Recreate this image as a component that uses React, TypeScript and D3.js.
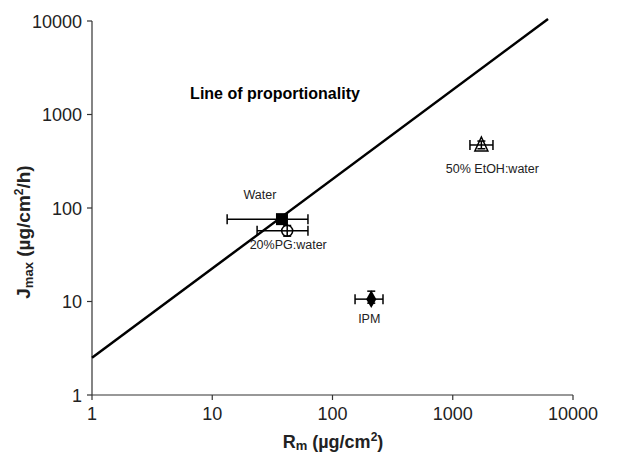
import * as d3 from 'd3'

// formulations: R_m (x), J_max (y) with error ranges
const names = ['Water', '20%PG:water', 'IPM', '50% EtOH:water']
const rm = [38, 42, 210, 1730]
const rmLo = [13.3, 23.6, 154, 1390]
const rmHi = [62.5, 62.5, 263, 2160]
const jmax = [76, 57, 10.6, 472]
const jLo = [70, 50, 9.6, 430]
const jHi = [83, 65, 12.9, 520]
const markers = ['square', 'circle', 'diamond', 'triangle']
// label offsets relative to marker (px)
const labelDx = [-22, 1, -2, 11]
const labelDy = [-20, 18, 24, 28]

// line of proportionality end points
const lineR = [1, 6200]
const lineJ = [2.5, 10500]

const ticks = [1, 10, 100, 1000, 10000]

export default function App() {
  const width = 622
  const height = 455
  const x = d3.scaleLog().domain([1, 10000]).range([92, 573])
  const y = d3.scaleLog().domain([1, 10000]).range([395, 21])
  const axisColor = '#333'
  const font = 'Liberation Sans, Arial, sans-serif'

  const line = d3.line<number>()
    .x((d, i) => x(lineR[i]))
    .y((d, i) => y(lineJ[i]))

  const marker = (kind: string, cx: number, cy: number) => {
    if (kind === 'square') {
      return <rect x={cx - 6} y={cy - 6} width={12} height={12} fill="#000" />
    }
    if (kind === 'circle') {
      return <circle cx={cx} cy={cy} r={5.5} fill="#fff" stroke="#000" strokeWidth={1.5} />
    }
    if (kind === 'diamond') {
      const s = d3.symbol().type(d3.symbolDiamond).size(90)()
      return <path d={s ?? ''} transform={`translate(${cx},${cy})`} fill="#000" />
    }
    const t = `M${cx},${cy - 8}L${cx + 6.5},${cy + 6}L${cx - 6.5},${cy + 6}Z`
    return <path d={t} fill="#fff" stroke="#000" strokeWidth={1.5} />
  }

  return (
    <svg width={width} height={height} style={{ position: 'absolute', left: 0, top: 0 }} fontFamily={font}>
      <rect width={width} height={height} fill="#fff" />

      {/* axes */}
      <line x1={92} x2={573} y1={395} y2={395} stroke={axisColor} strokeWidth={1.2} />
      <line x1={92} x2={92} y1={21} y2={395} stroke={axisColor} strokeWidth={1.2} />
      {ticks.map(t => (
        <g key={'x' + t}>
          <line x1={x(t)} x2={x(t)} y1={395} y2={400} stroke={axisColor} strokeWidth={1.2} />
          <text x={x(t)} y={420} textAnchor="middle" fontSize={18} fill="#222">{t}</text>
        </g>
      ))}
      {ticks.map(t => (
        <g key={'y' + t}>
          <line x1={87} x2={92} y1={y(t)} y2={y(t)} stroke={axisColor} strokeWidth={1.2} />
          <text x={82} y={y(t) + 6.5} textAnchor="end" fontSize={18} fill="#222">{t}</text>
        </g>
      ))}

      <text x={333} y={448} textAnchor="middle" fontSize={18} fontWeight="bold" fill="#222">
        R<tspan fontSize={13} dy={2}>m</tspan><tspan dy={-2}> (µg/cm</tspan><tspan fontSize={12} dy={-7}>2</tspan><tspan dy={7}>)</tspan>
      </text>
      <text transform="translate(30,232) rotate(-90)" textAnchor="middle" fontSize={19} fontWeight="bold" fill="#222">
        J<tspan fontSize={13} dy={3}>max</tspan><tspan dy={-3}> (µg/cm</tspan><tspan fontSize={12} dy={-7}>2</tspan><tspan dy={7}>/h)</tspan>
      </text>

      {/* line of proportionality */}
      <path d={line(lineR) ?? ''} fill="none" stroke="#000" strokeWidth={2.5} />
      <text x={275} y={99} textAnchor="middle" fontSize={16} fontWeight="bold" fill="#000">Line of proportionality</text>

      {/* points with error bars */}
      {names.map((n, i) => {
        const cx = x(rm[i])
        const cy = y(jmax[i])
        return (
          <g key={n}>
            <line x1={x(rmLo[i])} x2={x(rmHi[i])} y1={cy} y2={cy} stroke="#000" strokeWidth={1.5} />
            <line x1={x(rmLo[i])} x2={x(rmLo[i])} y1={cy - 5} y2={cy + 5} stroke="#000" strokeWidth={1.5} />
            <line x1={x(rmHi[i])} x2={x(rmHi[i])} y1={cy - 5} y2={cy + 5} stroke="#000" strokeWidth={1.5} />
            {marker(markers[i], cx, cy)}
            <line x1={cx} x2={cx} y1={y(jHi[i])} y2={y(jLo[i])} stroke="#000" strokeWidth={1.5} />
            <line x1={cx - 4} x2={cx + 4} y1={y(jHi[i])} y2={y(jHi[i])} stroke="#000" strokeWidth={1.5} />
            <line x1={cx - 4} x2={cx + 4} y1={y(jLo[i])} y2={y(jLo[i])} stroke="#000" strokeWidth={1.5} />
            {markers[i] === 'circle' && (
              <line x1={cx - 5.5} x2={cx + 5.5} y1={cy} y2={cy} stroke="#000" strokeWidth={1.5} />
            )}
            {markers[i] === 'triangle' && (
              <line x1={cx - 4} x2={cx + 4} y1={cy} y2={cy} stroke="#000" strokeWidth={1.5} />
            )}
            <text x={cx + labelDx[i]} y={cy + labelDy[i]} textAnchor="middle" fontSize={12.5} fill="#222">{n}</text>
          </g>
        )
      })}
    </svg>
  )
}
